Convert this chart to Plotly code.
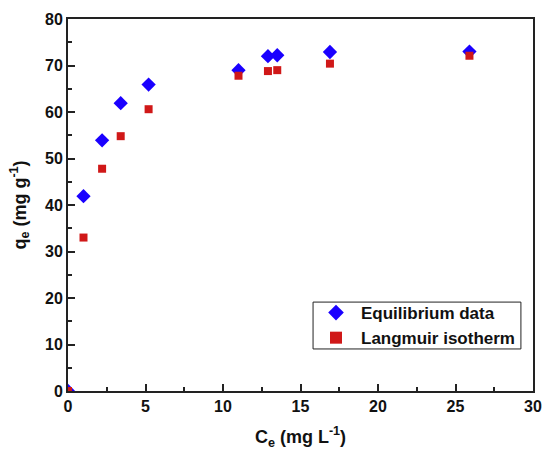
import plotly.graph_objects as go

# Equilibrium concentration (mg/L) and uptake (mg/g)
ce = [0, 1.0, 2.2, 3.4, 5.2, 11.0, 12.9, 13.5, 16.9, 25.9]
qe_equilibrium = [0, 41.9, 53.9, 61.9, 65.9, 69.0, 72.0, 72.2, 72.9, 73.0]
qe_langmuir = [0, 33.0, 47.8, 54.8, 60.6, 67.8, 68.8, 69.0, 70.4, 72.1]

x_ticks = [0, 5, 10, 15, 20, 25, 30]
y_ticks = [0, 10, 20, 30, 40, 50, 60, 70, 80]

font_family = "Liberation Sans, Arial, sans-serif"

fig = go.Figure()
fig.add_trace(go.Scatter(
    x=ce, y=qe_equilibrium, mode="markers", name="<b>Equilibrium data</b>",
    marker=dict(symbol="diamond", size=11, color="#1a00ff"),
))
fig.add_trace(go.Scatter(
    x=ce, y=qe_langmuir, mode="markers", name="<b>Langmuir isotherm</b>",
    marker=dict(symbol="square", size=8, color="#d01818"),
))

axis_common = dict(
    showgrid=False, zeroline=False, showline=True, linecolor="#222222",
    linewidth=2, mirror=True, ticks="inside", tickwidth=1.5, ticklen=7,
    tickcolor="#222222", automargin=False,
    tickfont=dict(family=font_family, size=16, color="#111111"),
    minor=dict(ticks="inside", ticklen=4, tickwidth=1.5, tickcolor="#222222"),
)

fig.update_xaxes(
    range=[0, 30], tickvals=x_ticks,
    ticktext=["<b>%d</b>" % v for v in x_ticks],
    minor_dtick=2.5,
    title=dict(text="<b>C<sub>e</sub> (mg L<sup>-1</sup>)</b>",
               font=dict(family=font_family, size=18, color="#111111"),
               standoff=16),
    **axis_common,
)
fig.update_yaxes(
    range=[0, 80], tickvals=y_ticks,
    ticktext=["<b>%d</b>" % v for v in y_ticks],
    minor_dtick=5,
    title=dict(text="<b>q<sub>e</sub> (mg g<sup>-1</sup>)</b>",
               font=dict(family=font_family, size=18, color="#111111"),
               standoff=14),
    **axis_common,
)

# Framed legend box
fig.add_shape(
    type="rect", xref="paper", yref="paper",
    x0=0.527, x1=0.974, y0=0.113, y1=0.239,
    line=dict(color="#222222", width=1), fillcolor="white", layer="above",
)

fig.update_layout(
    width=547, height=452,
    margin=dict(l=68, r=14, t=19, b=61),
    plot_bgcolor="white", paper_bgcolor="white",
    showlegend=True,
    legend=dict(
        x=0.5226, y=0.176, xanchor="left", yanchor="middle",
        borderwidth=0, bgcolor="rgba(0,0,0,0)",
        font=dict(family=font_family, size=17, color="#111111"),
        tracegroupgap=0, itemsizing="constant", itemwidth=40,
    ),
)

fig.write_html("out.html")
